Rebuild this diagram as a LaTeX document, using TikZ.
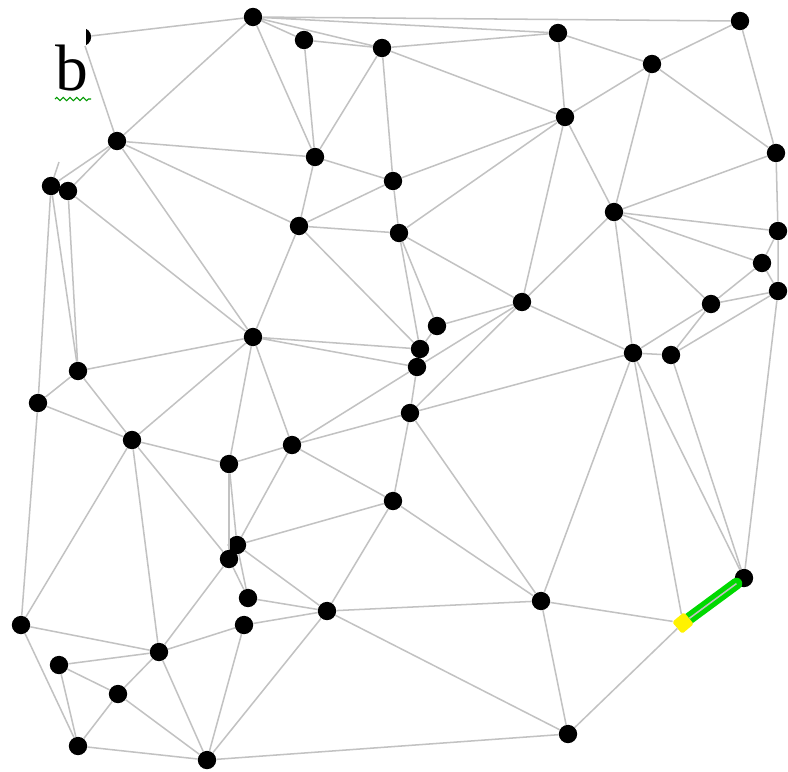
\documentclass[tikz,border=0pt]{standalone}
\usepackage{amsmath,amssymb}
\usepackage{fontspec}
\setmainfont{Liberation Serif}
\usepackage{tikz}
\usetikzlibrary{decorations.pathmorphing}

\begin{document}
\begin{tikzpicture}[
  x=0.03cm, y=-0.03cm,
  site/.style={circle, fill=black, inner sep=0pt, minimum size=0.55cm},
  edge/.style={draw=black!24, line width=1.3pt},
  hiedge/.style={draw=green!85!black, line width=10pt, line cap=round},
  hisite/.style={rectangle, fill=yellow, inner sep=0pt, minimum size=0.46cm, rotate=40, rounded corners=1.5pt},
  label/.style={font=\fontsize{56}{56}\selectfont, inner sep=0pt}
]
  \useasboundingbox (0,0) rectangle (788,771);

  % Label
  \node[label, anchor=base west] (lbl) at (55,90) {b};
  \coordinate (wavyL) at (55,99);
  \coordinate (wavyR) at (91,99);
  \draw[green!60!black, line width=0.9pt, decorate,
        decoration={zigzag, amplitude=0.05cm, segment length=0.2cm}] (wavyL) -- (wavyR);

  % Cut-off site at the label
  \begin{scope}
    \clip (86,0) rectangle (120,60);
    \node[site] (p0) at (82,37) {};
  \end{scope}
  \coordinate (stub) at (59,162);

  % Sites, top row
  \node[site] (a1) at (253,17) {};
  \node[site] (a2) at (304,40) {};
  \node[site] (a3) at (382,48) {};
  \node[site] (a4) at (558,33) {};
  \node[site] (a5) at (740,21) {};
  \node[site] (a6) at (652,64) {};

  % Sites
  \node[site] (b1) at (117,141) {};
  \node[site] (b2) at (315,157) {};
  \node[site] (b3) at (565,117) {};
  \node[site] (b4) at (776,153) {};
  \node[site] (b5) at (393,181) {};
  \node[site] (b6) at (51,186) {};
  \node[site] (b7) at (68,191) {};
  \node[site] (b8) at (299,226) {};
  \node[site] (b9) at (399,233) {};
  \node[site] (b10) at (614,212) {};
  \node[site] (b11) at (778,231) {};
  \node[site] (b12) at (762,263) {};
  \node[site] (b13) at (778,291) {};
  \node[site] (b14) at (711,304) {};
  \node[site] (b15) at (522,302) {};
  \node[site] (b16) at (437,326) {};
  \node[site] (b17) at (253,337) {};
  \node[site] (b18) at (420,349) {};
  \node[site] (b19) at (417,367) {};
  \node[site] (b20) at (633,353) {};
  \node[site] (b21) at (671,355) {};
  \node[site] (b22) at (78,371) {};
  \node[site] (b23) at (38,403) {};
  \node[site] (b24) at (410,413) {};
  \node[site] (b25) at (132,440) {};
  \node[site] (b26) at (292,445) {};
  \node[site] (b27) at (229,464) {};
  \node[site] (b28) at (393,501) {};
  \node[site] (b29) at (237,545) {};
  \node[site] (b30) at (229,559) {};
  \node[site] (b31) at (744,578) {};
  \node[site] (b32) at (248,598) {};
  \node[site] (b33) at (541,601) {};
  \node[site] (b34) at (327,611) {};
  \node[site] (b35) at (21,625) {};
  \node[site] (b36) at (244,625) {};
  \node[site] (b38) at (159,652) {};
  \node[site] (b39) at (59,665) {};
  \node[site] (b40) at (118,694) {};
  \node[site] (b41) at (78,746) {};
  \node[site] (b42) at (207,760) {};
  \node[site] (b43) at (568,734) {};

  % Highlighted edge
  \coordinate (b37c) at (683,623);
  \draw[hiedge] (b37c) -- (b31);
  \node[hisite] (b37) at (b37c) {};

  % Edges
  \draw[edge] (p0) -- (a1) (p0) -- (b1) (b6) -- (stub);
  \draw[edge] (a1) -- (a2) (a1) -- (a3) (a1) -- (a4) (a1) -- (a5) (a1) -- (b1) (a1) -- (b2);
  \draw[edge] (a2) -- (a3) (a2) -- (b2);
  \draw[edge] (a3) -- (a4) (a3) -- (b2) (a3) -- (b5) (a3) -- (b3);
  \draw[edge] (a4) -- (a6) (a4) -- (b3);
  \draw[edge] (a5) -- (a6) (a5) -- (b4);
  \draw[edge] (a6) -- (b3) (a6) -- (b10) (a6) -- (b4);
  \draw[edge] (b1) -- (b2) (b1) -- (b8) (b1) -- (b17) (b1) -- (b6) (b1) -- (b7);
  \draw[edge] (b2) -- (b5) (b2) -- (b8);
  \draw[edge] (b3) -- (b5) (b3) -- (b9) (b3) -- (b15) (b3) -- (b10);
  \draw[edge] (b4) -- (b10) (b4) -- (b11);
  \draw[edge] (b5) -- (b8) (b5) -- (b9);
  \draw[edge] (b6) -- (b23) (b6) -- (b22);
  \draw[edge] (b7) -- (b22) (b7) -- (b17);
  \draw[edge] (b8) -- (b9) (b8) -- (b17) (b8) -- (b18);
  \draw[edge] (b9) -- (b18) (b9) -- (b16) (b9) -- (b15);
  \draw[edge] (b10) -- (b11) (b10) -- (b12) (b10) -- (b15) (b10) -- (b20) (b10) -- (b14);
  \draw[edge] (b11) -- (b13) (b11) -- (b12);
  \draw[edge] (b12) -- (b13) (b12) -- (b14);
  \draw[edge] (b13) -- (b14) (b13) -- (b21) (b13) -- (b31);
  \draw[edge] (b14) -- (b20) (b14) -- (b21);
  \draw[edge] (b15) -- (b16) (b15) -- (b19) (b15) -- (b24) (b15) -- (b20);
  \draw[edge] (b16) -- (b18);
  \draw[edge] (b17) -- (b18) (b17) -- (b19) (b17) -- (b22) (b17) -- (b25) (b17) -- (b27) (b17) -- (b26);
  \draw[edge] (b19) -- (b24) (b19) -- (b26);
  \draw[edge] (b20) -- (b21) (b20) -- (b24) (b20) -- (b33) (b20) -- (b37) (b20) -- (b31);
  \draw[edge] (b21) -- (b31);
  \draw[edge] (b22) -- (b23) (b22) -- (b25);
  \draw[edge] (b23) -- (b25) (b23) -- (b35);
  \draw[edge] (b24) -- (b26) (b24) -- (b28) (b24) -- (b33);
  \draw[edge] (b25) -- (b27) (b25) -- (b35) (b25) -- (b38) (b25) -- (b30);
  \draw[edge] (b26) -- (b27) (b26) -- (b28) (b26) -- (b29);
  \draw[edge] (b27) -- (b29) (b27) -- (b30);
  \draw[edge] (b28) -- (b29) (b28) -- (b34) (b28) -- (b33);
  \draw[edge] (b29) -- (b34) (b29) -- (b32);
  \draw[edge] (b30) -- (b32) (b30) -- (b38);
  \draw[edge] (b37) -- (b31);
  \draw[edge] (b32) -- (b34);
  \draw[edge] (b33) -- (b34) (b33) -- (b37) (b33) -- (b43);
  \draw[edge] (b34) -- (b36) (b34) -- (b42) (b34) -- (b43);
  \draw[edge] (b35) -- (b38) (b35) -- (b41);
  \draw[edge] (b36) -- (b38) (b36) -- (b42);
  \draw[edge] (b37) -- (b43);
  \draw[edge] (b38) -- (b39) (b38) -- (b40) (b38) -- (b42);
  \draw[edge] (b39) -- (b40) (b39) -- (b41);
  \draw[edge] (b40) -- (b41) (b40) -- (b42);
  \draw[edge] (b41) -- (b42);
  \draw[edge] (b42) -- (b43);

\end{tikzpicture}
\end{document}
